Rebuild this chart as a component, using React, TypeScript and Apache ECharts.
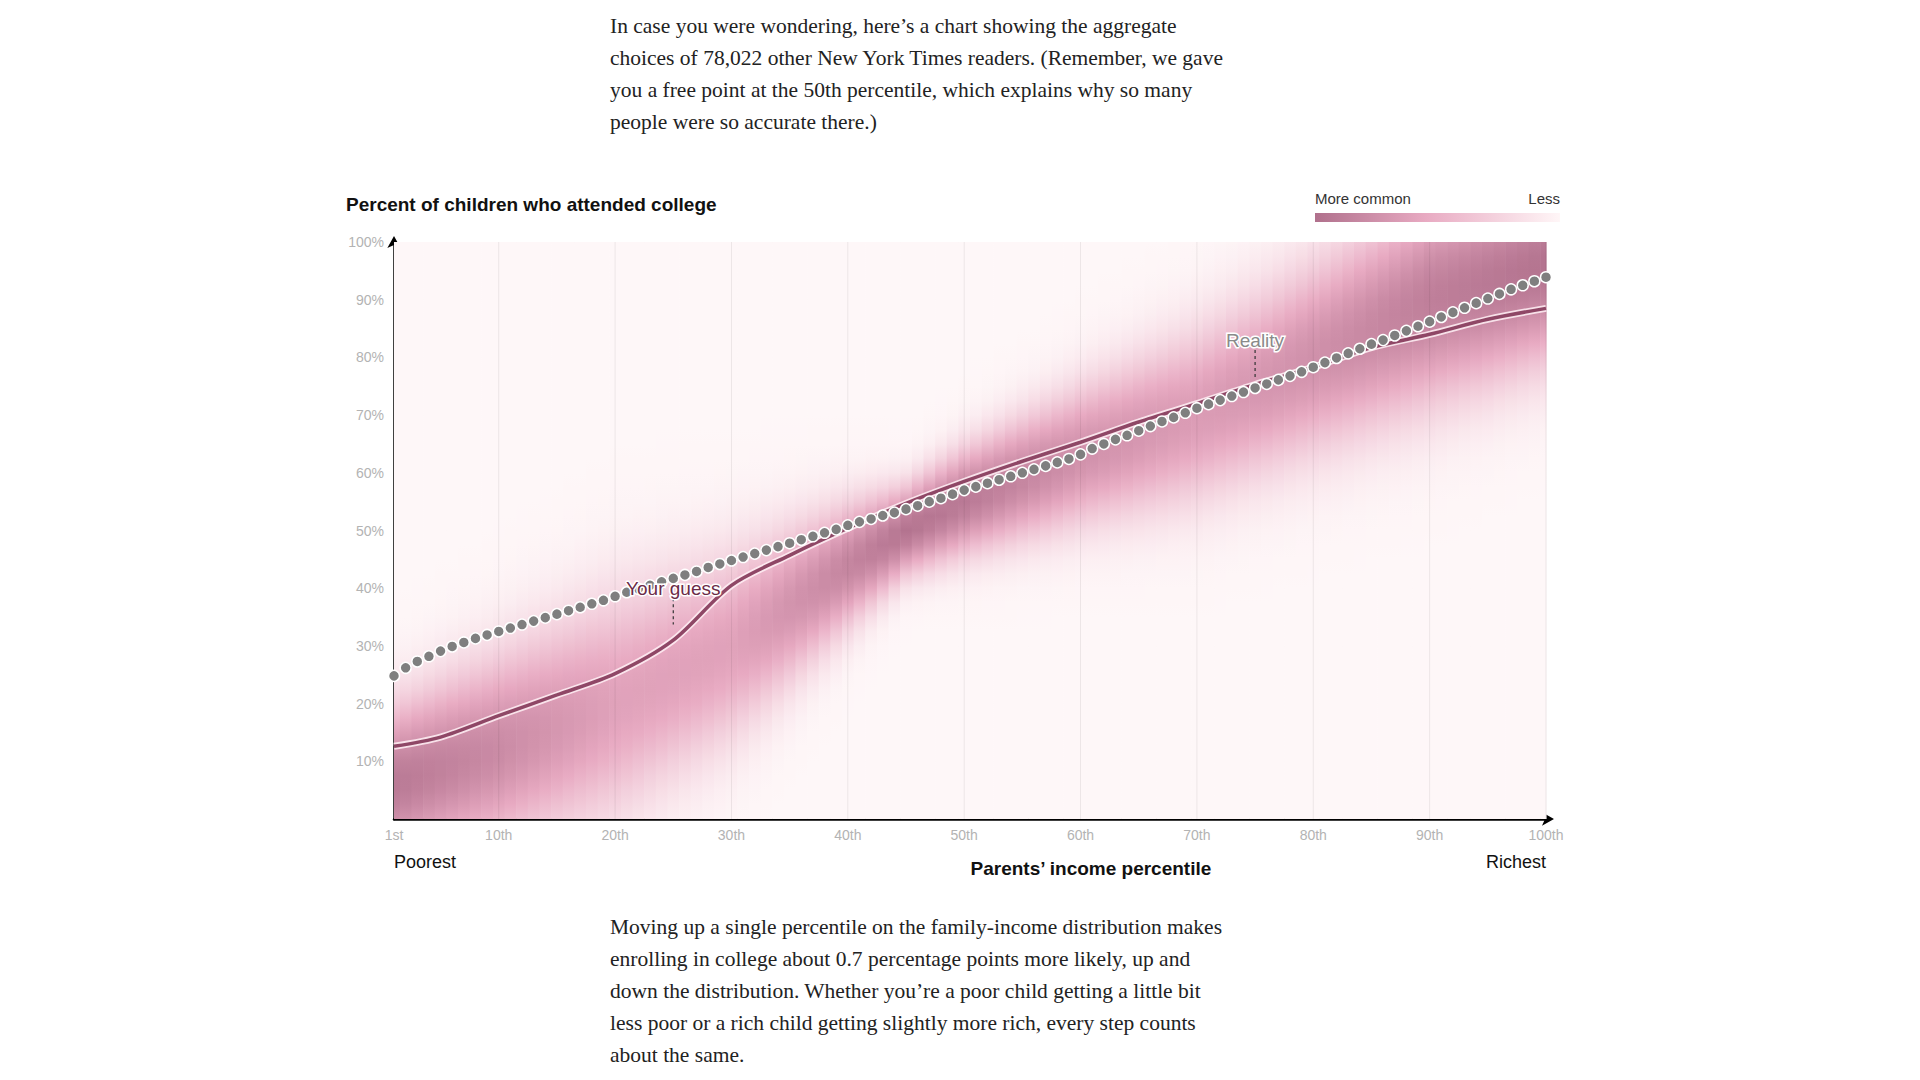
import React, { useEffect, useRef } from "react";
import * as echarts from "echarts";

const guessValues = [
  24.8, 26.2, 27.3, 28.2, 29.1, 29.9, 30.6, 31.3, 31.9, 32.5,
  33.1, 33.7, 34.3, 34.9, 35.5, 36.1, 36.7, 37.3, 37.9, 38.6,
  39.3, 39.9, 40.5, 41.1, 41.7, 42.3, 42.9, 43.6, 44.2, 44.8,
  45.4, 46.0, 46.6, 47.2, 47.8, 48.4, 49.0, 49.6, 50.2, 50.9,
  51.5, 52.0, 52.6, 53.1, 53.7, 54.3, 55.0, 55.6, 56.3, 57.0,
  57.6, 58.2, 58.8, 59.4, 60.0, 60.6, 61.2, 61.8, 62.4, 63.2,
  64.2, 65.0, 65.8, 66.5, 67.3, 68.1, 68.9, 69.6, 70.4, 71.2,
  71.9, 72.6, 73.3, 74.0, 74.7, 75.4, 76.1, 76.8, 77.5, 78.3,
  79.1, 79.9, 80.7, 81.5, 82.3, 83.0, 83.8, 84.6, 85.4, 86.2,
  87.0, 87.8, 88.6, 89.4, 90.2, 91.0, 91.8, 92.5, 93.2, 93.9,
];
const realityPct = [1, 5, 10, 15, 20, 25, 30, 35, 40, 45, 50, 55, 60, 65, 70, 75, 80, 85, 90, 95, 100];
const realityValues = [12.6, 14.2, 17.9, 21.5, 25.2, 31.0, 40.5, 45.7, 50.4, 54.7, 58.5, 62.0, 65.3, 68.8, 72.0, 75.3, 78.3, 81.7, 84.0, 86.6, 88.5];

const densityPct = [1, 10, 20, 30, 40, 45, 50, 60, 70, 80, 90, 100];
const densityCenter = [6, 12, 20, 30, 44, 50, 55, 63, 70, 80, 90, 96];
const densitySpread = [9, 11, 13, 11, 7, 5, 6, 8, 10, 11, 12, 11];
const densityPeak = [0.9, 0.75, 0.55, 0.55, 0.8, 0.95, 0.9, 0.7, 0.6, 0.7, 0.85, 0.95];

const xTicks = [10, 20, 30, 40, 50, 60, 70, 80, 90, 100];
const xTickLabels = ["10th", "20th", "30th", "40th", "50th", "60th", "70th", "80th", "90th", "100th"];

function lerpArr(xs: number[], ys: number[], x: number) {
  if (x <= xs[0]) return ys[0];
  for (let i = 1; i < xs.length; i++) {
    if (x <= xs[i]) {
      const t = (x - xs[i - 1]) / (xs[i] - xs[i - 1]);
      return ys[i - 1] + (ys[i] - ys[i - 1]) * t;
    }
  }
  return ys[ys.length - 1];
}
const cLow = [255, 250, 250], cMid = [232, 170, 194], cHigh = [176, 112, 140];
function colorAt(t: number) {
  let a, b, u;
  if (t < 0.5) { a = cLow; b = cMid; u = t / 0.5; } else { a = cMid; b = cHigh; u = (t - 0.5) / 0.5; }
  const c = a.map((v, i) => Math.round(v + (b[i] - v) * u));
  return `rgb(${c[0]},${c[1]},${c[2]})`;
}

const columns = Array.from({ length: 100 }, (_, i) => i + 1);

export default function App() {
  const ref = useRef<HTMLDivElement>(null);
  useEffect(() => {
    const chart = echarts.init(ref.current!, null, { renderer: "svg" });
    const sans = "Liberation Sans, Arial, sans-serif";
    chart.setOption({
      animation: false,
      grid: { left: 394, right: 374, top: 242, bottom: 261 },
      xAxis: {
        type: "value", min: 1, max: 100,
        axisLine: { show: true, lineStyle: { color: "#000", width: 2.5 }, symbol: ["none", "arrow"], symbolSize: [10, 12], symbolOffset: [0, 8] },
        axisTick: { show: false }, axisLabel: { show: false }, splitLine: { show: false },
      },
      yAxis: {
        type: "value", min: 0, max: 100, interval: 10,
        axisLine: { show: true, lineStyle: { color: "#000", width: 2.5 }, symbol: ["none", "arrow"], symbolSize: [10, 12], symbolOffset: [0, 6] },
        axisTick: { show: false },
        splitLine: { show: true, lineStyle: { color: "rgba(0,0,0,0.07)", width: 1 } },
        axisLabel: { color: "#b3b3b3", fontSize: 14, fontFamily: sans, margin: 10, formatter: (v: number) => (v === 0 ? "" : v + "%") },
      },
      graphic: [
        { type: "text", left: 346, top: 195, style: { text: "Percent of children who attended college", font: `bold 19px ${sans}`, fill: "#111" } },
        { type: "text", left: 1315, top: 191, style: { text: "More common", font: `15px ${sans}`, fill: "#333" } },
        { type: "text", right: 360, top: 191, style: { text: "Less", font: `15px ${sans}`, fill: "#333" } },
        {
          type: "rect", shape: { x: 1315, y: 213, width: 245, height: 9 },
          style: { fill: new echarts.graphic.LinearGradient(0, 0, 1, 0, [
            { offset: 0, color: "rgb(176,112,140)" }, { offset: 0.45, color: "rgb(232,170,194)" }, { offset: 1, color: "rgb(255,246,247)" },
          ]) },
        },
        { type: "text", left: 394, top: 853, style: { text: "Poorest", font: `18px ${sans}`, fill: "#111" } },
        { type: "text", right: 374, top: 853, style: { text: "Richest", font: `18px ${sans}`, fill: "#111", textAlign: "right" } },
        { type: "text", left: 970, top: 859, style: { text: "Parents\u2019 income percentile", font: `bold 19px ${sans}`, fill: "#111", textAlign: "center" } },
      ],
      series: [
        {
          type: "custom", z: 1, silent: true,
          data: columns,
          renderItem: (params: any, api: any) => {
            const p = api.value(0);
            const a = api.coord([Math.max(1, p - 0.5), 100]);
            const b = api.coord([Math.min(100, p + 0.5), 0]);
            const c = lerpArr(densityPct, densityCenter, p);
            const s = lerpArr(densityPct, densitySpread, p);
            const pk = lerpArr(densityPct, densityPeak, p);
            const stops = [];
            for (let y = 0; y <= 100; y += 2.5) {
              const d = pk * Math.exp(-0.5 * ((y - c) / s) ** 2);
              stops.push({ offset: 1 - y / 100, color: colorAt(Math.min(1, d + 0.02)) });
            }
            stops.sort((m, n) => m.offset - n.offset);
            return {
              type: "rect",
              shape: { x: a[0], y: a[1], width: b[0] - a[0] + 0.6, height: b[1] - a[1] },
              style: { fill: new echarts.graphic.LinearGradient(0, 0, 0, 1, stops) },
            };
          },
        },
        {
          type: "custom", z: 2, silent: true,
          data: xTicks.map((t, i) => [t, i]),
          renderItem: (params: any, api: any) => {
            const t = api.value(0);
            const top = api.coord([t, 100]);
            const bot = api.coord([t, 0]);
            return {
              type: "group",
              children: [
                { type: "line", shape: { x1: top[0], y1: top[1], x2: bot[0], y2: bot[1] }, style: { stroke: "rgba(0,0,0,0.07)", lineWidth: 1 } },
                { type: "text", style: { x: bot[0], y: bot[1] + 16, text: xTickLabels[api.value(1)], fill: "#b3b3b3", font: `14px ${sans}`, textAlign: "center", textVerticalAlign: "middle" } },
              ],
            };
          },
        },
        {
          type: "custom", z: 2, silent: true,
          data: [[1, 0]],
          renderItem: (params: any, api: any) => {
            const b = api.coord([1, 0]);
            return { type: "text", style: { x: b[0], y: b[1] + 16, text: "1st", fill: "#b3b3b3", font: `14px ${sans}`, textAlign: "center", textVerticalAlign: "middle" } };
          },
        },
        {
          type: "line", z: 3, smooth: 0.3, showSymbol: false, silent: true,
          data: realityPct.map((p, i) => [p, realityValues[i]]),
          lineStyle: { color: "rgba(255,240,245,0.85)", width: 7 },
        },
        {
          type: "line", z: 4, smooth: 0.3, showSymbol: false, silent: true,
          data: realityPct.map((p, i) => [p, realityValues[i]]),
          lineStyle: { color: "#8f4766", width: 3.5 },
        },
        {
          type: "scatter", z: 5, silent: true,
          data: guessValues.map((v, i) => [i + 1, v]),
          symbolSize: 11,
          itemStyle: { color: "#7f7f7f", borderColor: "#fff", borderWidth: 1.5, opacity: 1 },
        },
        {
          type: "custom", z: 6, silent: true,
          data: [[25, 33, "Your guess", 40], [75, 75.5, "Reality", 83]],
          renderItem: (params: any, api: any) => {
            const p0 = api.coord([api.value(0), api.value(1)]);
            const p1 = api.coord([api.value(0), api.value(3)]);
            const isGuess = params.dataIndex === 0;
            return {
              type: "group",
              children: [
                { type: "line", shape: { x1: p1[0], y1: p1[1] + 10, x2: p0[0], y2: p0[1] - 4 }, style: { stroke: "#333", lineWidth: 1.2, lineDash: [3, 3] } },
                { type: "text", style: { x: p1[0], y: p1[1], text: isGuess ? "Your guess" : "Reality", font: `19px ${sans}`, fill: isGuess ? "#6b2b47" : "#8a8a8a", stroke: "#fff", lineWidth: 3, textAlign: "center", textVerticalAlign: "middle" } },
              ],
            };
          },
        },
      ],
    });
    return () => chart.dispose();
  }, []);

  const para: React.CSSProperties = {
    position: "absolute", left: 610, width: 700, fontFamily: "Liberation Serif, serif",
    fontSize: 21.5, lineHeight: "32px", color: "#222", margin: 0,
  };
  return (
    <div style={{ position: "fixed", left: 0, top: 0, width: 1920, height: 1080, background: "#fff" }}>
      <div ref={ref} style={{ position: "absolute", left: 0, top: 0, width: 1920, height: 1080 }} />
      <p style={{ ...para, top: 10 }}>
        In case you were wondering, here’s a chart showing the aggregate<br />
        choices of 78,022 other New York Times readers. (Remember, we gave<br />
        you a free point at the 50th percentile, which explains why so many<br />
        people were so accurate there.)
      </p>
      <p style={{ ...para, top: 911 }}>
        Moving up a single percentile on the family-income distribution makes<br />
        enrolling in college about 0.7 percentage points more likely, up and<br />
        down the distribution. Whether you’re a poor child getting a little bit<br />
        less poor or a rich child getting slightly more rich, every step counts<br />
        about the same.
      </p>
    </div>
  );
}
